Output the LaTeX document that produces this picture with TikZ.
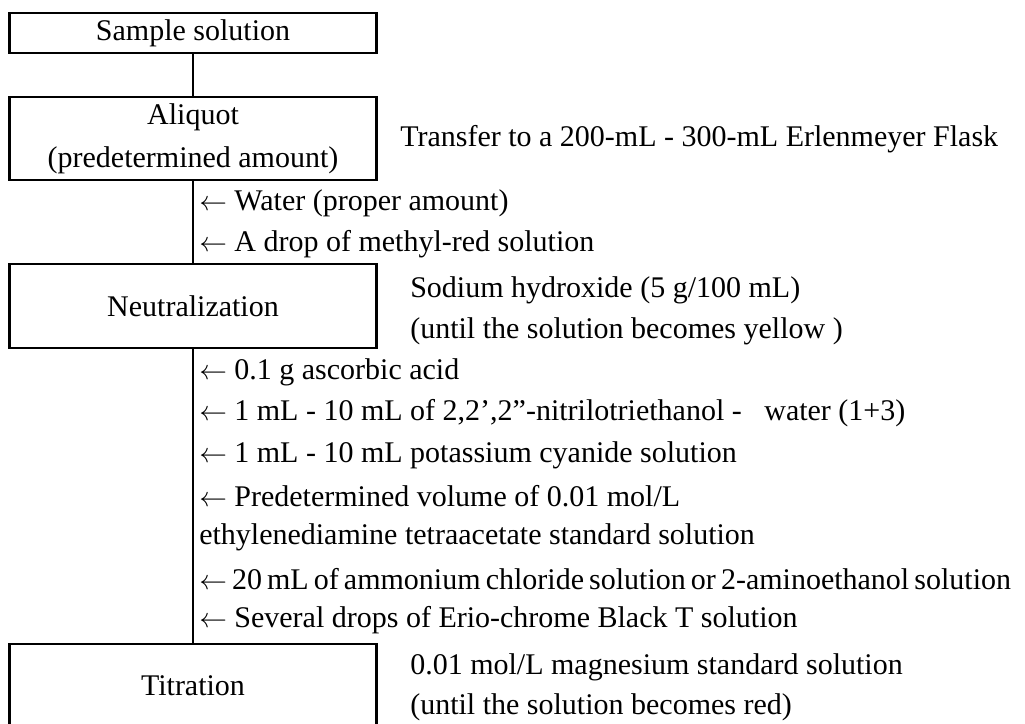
\documentclass[tikz,border=0pt]{standalone}
\usepackage{fontspec}
\setmainfont{Liberation Serif}
\newcommand{\la}{$\leftarrow$\ }
\begin{document}
\begin{tikzpicture}[x=0.75pt,y=-0.75pt,
  base/.style={font=\fontsize{22.5pt}{32pt}\selectfont},
  stepbox/.style={base, draw, line width=2pt, minimum width=367*0.75pt, align=center, inner sep=0pt},
  txt/.style={base, anchor=west, inner sep=0pt},
  link/.style={line width=2pt}]
\useasboundingbox (0,0) rectangle (1025,724);
\fill[white] (0,0) rectangle (1025,724);
% boxes
\node[stepbox, minimum height=40*0.75pt] (sample) at (193,33) {Sample solution};
\node[stepbox, minimum height=83*0.75pt] (aliquot) at (193,138.5) {Aliquot\\(predetermined amount)};
\node[stepbox, minimum height=84*0.75pt] (neut) at (193,306) {Neutralization};
\node[stepbox, minimum height=84*0.75pt] (titr) at (193,686) {Titration};
% connectors
\draw[link] (sample.south) -- (aliquot.north);
\draw[link] (aliquot.south) -- (neut.north);
\draw[link] (neut.south) -- (titr.north);
% side texts
\node[txt] (t1) at (400,139) {Transfer to a 200-mL - 300-mL Erlenmeyer Flask};
\node[txt] (a1) at (199,203) {\la Water (proper amount)};
\node[txt] (a2) at (199,244) {\la A drop of methyl-red solution};
\node[txt] (n1) at (410,290) {Sodium hydroxide (5 g/100 mL)};
\node[txt] (n2) at (410,331) {(until the solution becomes yellow )};
\node[txt] (b1) at (199,372) {\la 0.1 g ascorbic acid};
\node[txt] (b2) at (199,413) {\la 1 mL - 10 mL of 2,2’,2”-nitrilotriethanol -\ \ \ water (1+3)};
\node[txt] (b3) at (199,455) {\la 1 mL - 10 mL potassium cyanide solution};
\node[txt] (b4) at (199,496) {\la Predetermined volume of 0.01 mol/L};
\node[txt] (b5) at (199,537) {ethylenediamine tetraacetate standard solution};
\node[txt] (b6) at (199,579) {\spaceskip=0.17em plus 0.05em\relax\la 20 mL of ammonium chloride solution or 2-aminoethanol solution};
\node[txt] (b7) at (199,620) {\la Several drops of Erio-chrome Black T solution};
\node[txt] (m1) at (410,667) {0.01 mol/L magnesium standard solution};
\node[txt] (m2) at (410,707) {(until the solution becomes red)};
\end{tikzpicture}
\end{document}
